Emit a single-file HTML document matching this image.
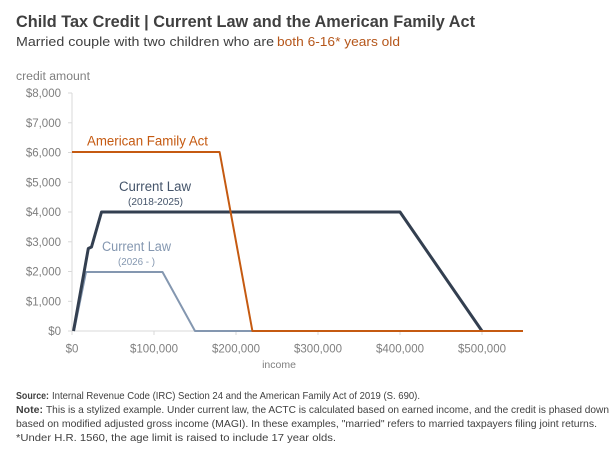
<!DOCTYPE html>
<html>
<head>
<meta charset="utf-8">
<style>
  html, body { margin:0; padding:0; background:#ffffff; }
  svg { display:block; }
  text { font-family: "Liberation Sans", "DejaVu Sans", sans-serif; }
</style>
</head>
<body>
<svg width="613" height="452" viewBox="0 0 613 452" xmlns="http://www.w3.org/2000/svg">
  <rect x="0" y="0" width="613" height="452" fill="#ffffff"/>

  <!-- Title -->
  <text x="16" y="27" font-size="17" font-weight="bold" fill="#404040" textLength="459" lengthAdjust="spacingAndGlyphs">Child Tax Credit | Current Law and the American Family Act</text>
  <text x="16" y="46" font-size="13" fill="#404040" textLength="258" lengthAdjust="spacingAndGlyphs">Married couple with two children who are</text>
  <text x="277" y="46" font-size="13" fill="#B5561A" textLength="123" lengthAdjust="spacingAndGlyphs">both 6-16* years old</text>

  <!-- axis title -->
  <text x="16" y="80" font-size="11.5" fill="#7F7F7F" textLength="74" lengthAdjust="spacingAndGlyphs">credit amount</text>

  <!-- Y axis -->
  <line x1="72" y1="93" x2="72" y2="331" stroke="#D9D9D9" stroke-width="1"/>
  <g stroke="#D9D9D9" stroke-width="1">
    <line x1="68" y1="93" x2="72" y2="93"/>
    <line x1="68" y1="122.8" x2="72" y2="122.8"/>
    <line x1="68" y1="152.5" x2="72" y2="152.5"/>
    <line x1="68" y1="182.3" x2="72" y2="182.3"/>
    <line x1="68" y1="212" x2="72" y2="212"/>
    <line x1="68" y1="241.8" x2="72" y2="241.8"/>
    <line x1="68" y1="271.5" x2="72" y2="271.5"/>
    <line x1="68" y1="301.3" x2="72" y2="301.3"/>
    <line x1="68" y1="331" x2="72" y2="331"/>
  </g>
  <g font-size="11.5" fill="#7F7F7F" text-anchor="end">
    <text x="61" y="97">$8,000</text>
    <text x="61" y="127">$7,000</text>
    <text x="61" y="156.5">$6,000</text>
    <text x="61" y="186.5">$5,000</text>
    <text x="61" y="216">$4,000</text>
    <text x="61" y="246">$3,000</text>
    <text x="61" y="275.5">$2,000</text>
    <text x="61" y="305.5">$1,000</text>
    <text x="61" y="335">$0</text>
  </g>

  <!-- X axis -->
  <line x1="72" y1="331" x2="523" y2="331" stroke="#D9D9D9" stroke-width="1"/>
  <g stroke="#D9D9D9" stroke-width="1">
    <line x1="72" y1="331" x2="72" y2="335"/>
    <line x1="154" y1="331" x2="154" y2="335"/>
    <line x1="236" y1="331" x2="236" y2="335"/>
    <line x1="318" y1="331" x2="318" y2="335"/>
    <line x1="400" y1="331" x2="400" y2="335"/>
    <line x1="482" y1="331" x2="482" y2="335"/>
  </g>
  <g font-size="11.5" fill="#7F7F7F" text-anchor="middle">
    <text x="72" y="352.5">$0</text>
    <text x="154" y="352.5">$100,000</text>
    <text x="236" y="352.5">$200,000</text>
    <text x="318" y="352.5">$300,000</text>
    <text x="400" y="352.5">$400,000</text>
    <text x="482" y="352.5">$500,000</text>
  </g>
  <text x="279" y="368" font-size="10.5" fill="#7F7F7F" text-anchor="middle">income</text>

  <!-- Series: Current Law 2026- -->
  <polyline points="74,331 86,272 162.5,272 195,331 523,331" fill="none" stroke="#8497B0" stroke-width="2" stroke-linejoin="round"/>
  <!-- Series: Current Law 2018-2025 -->
  <polyline points="73.5,331 88.3,248.5 91.5,247 101.5,212 400,212 482,331" fill="none" stroke="#333F50" stroke-width="3" stroke-linejoin="round"/>
  <!-- Series: American Family Act -->
  <polyline points="72,152 219.6,152 252.4,331 523,331" fill="none" stroke="#C55A11" stroke-width="2" stroke-linejoin="round"/>

  <!-- Series labels -->
  <text x="87" y="145.5" font-size="13.5" fill="#C55A11" textLength="121" lengthAdjust="spacingAndGlyphs">American Family Act</text>
  <text x="119" y="191" font-size="13.5" fill="#44546A" textLength="72" lengthAdjust="spacingAndGlyphs">Current Law</text>
  <text x="128" y="205" font-size="10" fill="#44546A" textLength="55" lengthAdjust="spacingAndGlyphs">(2018-2025)</text>
  <text x="102" y="251" font-size="13.5" fill="#8497B0" textLength="69" lengthAdjust="spacingAndGlyphs">Current Law</text>
  <text x="118" y="265" font-size="10" fill="#8497B0" textLength="37" lengthAdjust="spacingAndGlyphs">(2026 - )</text>

  <!-- Footer -->
  <g font-size="10.5" fill="#404040">
    <text x="16" y="399" font-weight="bold" textLength="33" lengthAdjust="spacingAndGlyphs">Source:</text>
    <text x="52" y="399" textLength="368" lengthAdjust="spacingAndGlyphs">Internal Revenue Code (IRC) Section 24 and the American Family Act of 2019 (S. 690).</text>
    <text x="16" y="413" font-weight="bold" textLength="27" lengthAdjust="spacingAndGlyphs">Note:</text>
    <text x="46" y="413" textLength="563" lengthAdjust="spacingAndGlyphs">This is a stylized example. Under current law, the ACTC is calculated based on earned income, and the credit is phased down</text>
    <text x="16" y="427" textLength="581" lengthAdjust="spacingAndGlyphs">based on modified adjusted gross income (MAGI). In these examples, "married" refers to married taxpayers filing joint returns.</text>
    <text x="16" y="441" textLength="320" lengthAdjust="spacingAndGlyphs">*Under H.R. 1560, the age limit is raised to include 17 year olds.</text>
  </g>
</svg>
</body>
</html>
